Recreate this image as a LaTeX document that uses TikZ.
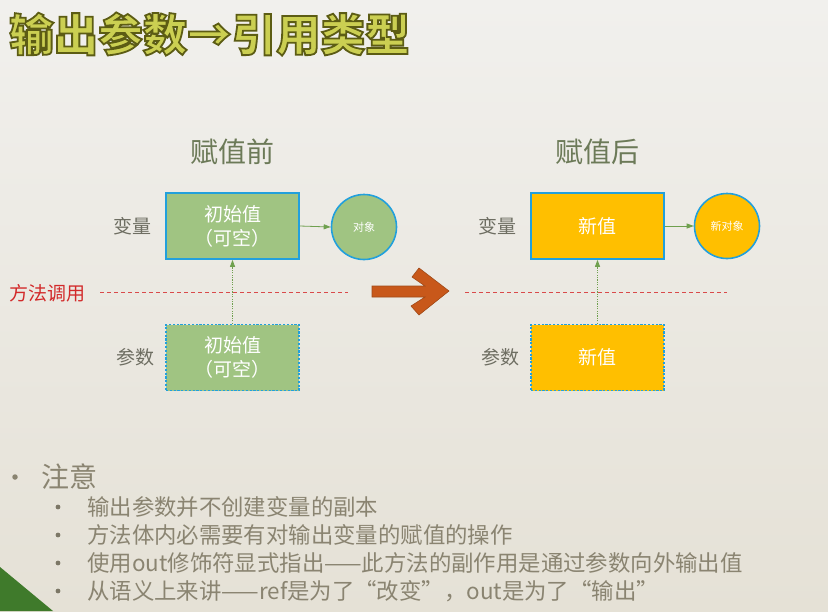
\documentclass[tikz,border=0pt]{standalone}
\usepackage{fontspec}
\setmainfont{Noto Sans CJK SC}
\usetikzlibrary{arrows.meta}
\definecolor{bgtop}{HTML}{F1F0ED}
\definecolor{bgbot}{HTML}{E5E1D6}
\definecolor{trigreen}{HTML}{3F7A2B}
\definecolor{titlefill}{HTML}{CBCF52}
\definecolor{titleline}{HTML}{5C5C14}
\definecolor{subtitle}{HTML}{6C7A58}
\definecolor{lblgray}{HTML}{6E6E62}
\definecolor{boxblue}{HTML}{22A0DC}
\definecolor{boxgreen}{HTML}{A0C482}
\definecolor{boxorange}{HTML}{FFBF00}
\definecolor{linkgreen}{HTML}{6FA04E}
\definecolor{callred}{HTML}{D22A2A}
\definecolor{bigarrow}{HTML}{C8581A}
\definecolor{bigarrowline}{HTML}{A04A18}
\definecolor{notegray}{HTML}{8A8471}
\newcommand{\outlinedtitle}[1]{{\color{titlefill}\special{pdf:literal direct 2 Tr 1.8 w 0.36 0.36 0.08 RG}#1\special{pdf:literal direct 0 Tr}}}
\tikzset{
  valbox/.style={draw=boxblue, line width=1.6pt, minimum width=133pt, minimum height=66pt,
    text=white, font=\fontsize{19}{24}\selectfont, align=center, inner sep=0pt},
  parbox/.style={valbox, dash pattern=on 2.2pt off 1.6pt},
  objcirc/.style={circle, draw=boxblue, line width=1.6pt, minimum size=65pt, text=white,
    inner sep=0pt, font=\fontsize{11}{12}\selectfont},
  lbl/.style={text=lblgray, font=\fontsize{19}{23}\selectfont, inner sep=0pt},
  headtxt/.style={text=subtitle, font=\fontsize{28}{32}\selectfont, inner sep=0pt},
  garrow/.style={draw=linkgreen, line width=0.8pt, -{Triangle[length=7pt,width=5pt]}},
  dotarrow/.style={garrow, dash pattern=on 1.2pt off 1.2pt},
  calldash/.style={draw=callred!85, line width=0.9pt, dash pattern=on 4pt off 3pt},
  notetxt/.style={text=notegray, font=\fontsize{22.4}{26}\selectfont, anchor=west, inner sep=0pt},
  subdot/.style={circle, fill=notegray!90!black, minimum size=4.8pt, inner sep=0pt},
  titletxt/.style={font=\fontsize{44.5}{50}\selectfont\bfseries, anchor=west, inner sep=0pt}
}
\begin{document}
\begin{tikzpicture}[x=1pt,y=-1pt]
\useasboundingbox (0,0) rectangle (828,611);
\shade[top color=bgtop, bottom color=bgbot] (0,0) rectangle (828,611);
\fill[trigreen] (0,567) -- (53,611) -- (0,611) -- cycle;

% title with outline
\node[titletxt] (title) at (9,34) {\outlinedtitle{输出参数→引用类型}};

% headings
\node[headtxt] (hbefore) at (232,152) {赋值前};
\node[headtxt] (hafter) at (597,152) {赋值后};

% left side
\node[lbl] (lvar) at (132,226) {变量};
\node[lbl] (lpar) at (135,357) {参数};
\node[valbox, fill=boxgreen] (lv) at (232.5,226) {初始值\\（可空）};
\node[parbox, fill=boxgreen] (lp) at (232.5,357.5) {初始值\\（可空）};
\node[objcirc, fill=boxgreen] (lo) at (364,227) {对象};
\draw[garrow] (lv.east) -- (lo.west);
\draw[dotarrow] (lp.north) -- (lv.south);

% right side
\node[lbl] (rvar) at (497,226) {变量};
\node[lbl] (rpar) at (500,357) {参数};
\node[valbox, fill=boxorange] (rv) at (597.5,226) {新值};
\node[parbox, fill=boxorange] (rp) at (597.5,357.5) {新值};
\node[objcirc, fill=boxorange] (ro) at (727,226) {新对象};
\draw[garrow] (rv.east) -- (ro.west);
\draw[dotarrow] (rp.north) -- (rv.south);

% method call line
\node[text=callred, font=\fontsize{19}{23}\selectfont, anchor=west, inner sep=0pt] (call) at (9,293) {方法调用};
\coordinate (dl1) at (100,292);
\coordinate (dl2) at (348,292);
\coordinate (dr1) at (465,292);
\coordinate (dr2) at (727,292);
\draw[calldash] (dl1) -- (dl2);
\draw[calldash] (dr1) -- (dr2);

% big arrow
\filldraw[fill=bigarrow, draw=bigarrowline, line width=0.6pt, line join=miter]
  (372,286) -- (425,286) -- (412,277) -- (419,268) -- (449,291) -- (419,315)
  -- (411,306) -- (425,297) -- (372,297) -- cycle;

% notes
\node[circle, fill=notegray, minimum size=5.5pt, inner sep=0pt] (mb) at (15,477) {};
\node[text=notegray, font=\fontsize{28}{32}\selectfont, anchor=west, inner sep=0pt] (note) at (41,477) {注意};
\node[subdot] (d1) at (58,507) {};
\node[subdot] (d2) at (58,535) {};
\node[subdot] (d3) at (58,563) {};
\node[subdot] (d4) at (58,591) {};
\node[notetxt] (n1) at (87,507) {输出参数并不创建变量的副本};
\node[notetxt] (n2) at (87,535) {方法体内必需要有对输出变量的赋值的操作};
\node[notetxt] (n3) at (87,563) {使用out修饰符显式指出——此方法的副作用是通过参数向外输出值};
\node[notetxt] (n4) at (87,591) {从语义上来讲——ref是为了“改变”，out是为了“输出”};
\end{tikzpicture}
\end{document}
